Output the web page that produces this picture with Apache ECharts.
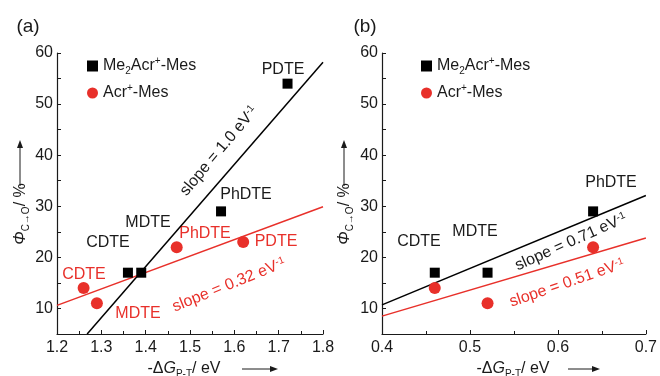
<!DOCTYPE html>
<html>
<head>
<meta charset="utf-8">
<script src="https://cdn.jsdelivr.net/npm/echarts@6/dist/echarts.min.js"></script>
<style>
  html, body { margin: 0; padding: 0; background: #fff; }
  #chart { width: 660px; height: 376px; }
</style>
</head>
<body>
<div id="chart"></div>
<script>
// panel (a): -dG (eV) vs quantum yield (%)
const xA_me2 = [1.36, 1.39, 1.57, 1.72]
const yA_me2 = [17, 17, 29, 54]
const xA_acr = [1.26, 1.29, 1.47, 1.62]
const yA_acr = [14, 11, 22, 23]
// panel (b)
const xB = [0.46, 0.52, 0.64]
const yB_me2 = [17, 17, 29]
const yB_acr = [14, 11, 22]
// fitted lines, end points
const fitA_me2 = [[1.268, 5], [1.8, 58.2]]
const fitA_acr = [[1.2, 10.6], [1.8, 29.9]]
const fitB_me2 = [[0.4, 10.7], [0.7, 32.1]]
const fitB_acr = [[0.4, 8.5], [0.7, 23.8]]
const names = ['Me2Acr+-Mes', 'Acr+-Mes']

const FONT = "'Liberation Sans', Arial, sans-serif"
const RED = '#e8302a'
const INK = '#1a1a1a'

const zip = (xs, ys) => xs.map((x, i) => [x, ys[i]])

const rich = {
  t: { fontSize: 16, fontFamily: FONT, lineHeight: 20 },
  i: { fontSize: 16, fontFamily: FONT, fontStyle: 'italic', lineHeight: 20 },
  sub: { fontSize: 10, fontFamily: FONT, verticalAlign: 'bottom', lineHeight: 14 },
  sup: { fontSize: 10, fontFamily: FONT, verticalAlign: 'top', lineHeight: 14 }
}

function legendText(n) {
  if (n === names[0]) return '{t|Me}{sub|2}{t|Acr}{sup|+}{t|-Mes}'
  return '{t|Acr}{sup|+}{t|-Mes}'
}

function xAxisCfg(idx, min, max) {
  return {
    type: 'value', gridIndex: idx, min: min, max: max, interval: 0.1,
    axisLine: { show: true, lineStyle: { color: INK, width: 1.2 } },
    axisTick: { inside: true, length: 4, lineStyle: { color: INK } },
    minorTick: { show: true, splitNumber: 2, length: 3, lineStyle: { color: INK } },
    splitLine: { show: false },
    axisLabel: { color: INK, fontSize: 16, fontFamily: FONT, margin: 6,
      formatter: v => v.toFixed(1) }
  }
}

function yAxisCfg(idx) {
  return {
    type: 'value', gridIndex: idx, min: 5, max: 60, interval: 5,
    axisLine: { show: true, lineStyle: { color: INK, width: 1.2 } },
    axisTick: { inside: true, length: 4, lineStyle: { color: INK } },
    splitLine: { show: false },
    axisLabel: { color: INK, fontSize: 16, fontFamily: FONT, margin: 4,
      formatter: v => (v % 10 === 0 ? String(v) : '') }
  }
}

function scatter(name, data, idx, red) {
  return {
    name: name, type: 'scatter', xAxisIndex: idx, yAxisIndex: idx, data: data,
    symbol: red ? 'circle' : 'rect', symbolSize: red ? 12 : 10,
    itemStyle: { color: red ? RED : '#000', opacity: 1 }, z: 3
  }
}

function fit(data, idx, red) {
  return {
    name: 'fit', type: 'line', xAxisIndex: idx, yAxisIndex: idx, data: data,
    symbol: 'none', silent: true, z: 2,
    lineStyle: { color: red ? RED : '#000', width: 1.5 }
  }
}

function label(x, y, text, color, rot) {
  return {
    type: 'text', x: x, y: y, rotation: rot ? rot * Math.PI / 180 : 0,
    style: {
      text: text, fill: color, fontSize: 16, fontFamily: FONT,
      align: 'center', verticalAlign: 'middle',
      rich: {
        t: { fontSize: 16, fontFamily: FONT, fill: color },
        sup: { fontSize: 10, fontFamily: FONT, fill: color, verticalAlign: 'top', lineHeight: 14 }
      }
    }
  }
}

function arrowUp(x, y0, y1) {
  return [
    { type: 'line', shape: { x1: x, y1: y0, x2: x, y2: y1 + 6 }, style: { stroke: INK, lineWidth: 1 } },
    { type: 'polygon', shape: { points: [[x - 3, y1 + 8], [x + 3, y1 + 8], [x, y1]] }, style: { fill: INK } }
  ]
}

function arrowRight(x0, x1, y) {
  return [
    { type: 'line', shape: { x1: x0, y1: y, x2: x1 - 6, y2: y }, style: { stroke: INK, lineWidth: 1 } },
    { type: 'polygon', shape: { points: [[x1 - 8, y - 3], [x1 - 8, y + 3], [x1, y]] }, style: { fill: INK } }
  ]
}

function yTitle(x, y) {
  return {
    type: 'text', x: x, y: y, rotation: Math.PI / 2,
    style: {
      text: '{i|Φ}{sub|C→O}{t|/ %}', fill: INK, align: 'center', verticalAlign: 'middle',
      fontSize: 16, fontFamily: FONT, rich: rich
    }
  }
}

function xTitle(x, y) {
  return {
    type: 'text', x: x, y: y,
    style: {
      text: '{t|-Δ}{i|G}{sub|P-T}{t|/ eV}', fill: INK, align: 'center', verticalAlign: 'middle',
      fontSize: 16, fontFamily: FONT, rich: rich
    }
  }
}

const chart = echarts.init(document.getElementById('chart'))

const option = {
  animation: false,
  backgroundColor: '#fff',
  grid: [
    { left: 57, top: 53, width: 266, height: 281 },
    { left: 382, top: 53, width: 267, height: 281 }
  ],
  xAxis: [xAxisCfg(0, 1.2, 1.8), xAxisCfg(1, 0.4, 0.7)],
  yAxis: [yAxisCfg(0), yAxisCfg(1)],
  legend: [
    { data: names.map((n, i) => ({ name: n, icon: i ? 'circle' : 'rect' })), orient: 'vertical',
      left: 82, top: 51, itemWidth: 11, itemHeight: 11, itemGap: 7,
      formatter: legendText, textStyle: { color: INK, rich: rich }, selectedMode: false },
    { data: names.map((n, i) => ({ name: n, icon: i ? 'circle' : 'rect' })), orient: 'vertical',
      left: 416, top: 51, itemWidth: 11, itemHeight: 11, itemGap: 7,
      formatter: legendText, textStyle: { color: INK, rich: rich }, selectedMode: false }
  ],
  series: [
    fit(fitA_me2, 0, false), fit(fitA_acr, 0, true),
    fit(fitB_me2, 1, false), fit(fitB_acr, 1, true),
    scatter(names[0], zip(xA_me2, yA_me2), 0, false),
    scatter(names[1], zip(xA_acr, yA_acr), 0, true),
    scatter(names[0], zip(xB, yB_me2), 1, false),
    scatter(names[1], zip(xB, yB_acr), 1, true)
  ],
  graphic: [
    { type: 'text', x: 28, y: 27, style: { text: '(a)', fill: INK, fontSize: 19, fontFamily: FONT, align: 'center', verticalAlign: 'middle' } },
    { type: 'text', x: 365, y: 27, style: { text: '(b)', fill: INK, fontSize: 19, fontFamily: FONT, align: 'center', verticalAlign: 'middle' } },
    // panel (a) point labels
    label(283, 70, 'PDTE', INK), label(246, 195, 'PhDTE', INK),
    label(148, 223, 'MDTE', INK), label(108, 243, 'CDTE', INK),
    label(84, 275, 'CDTE', RED), label(138, 314, 'MDTE', RED),
    label(205, 234, 'PhDTE', RED), label(276, 242, 'PDTE', RED),
    label(219, 151, '{t|slope = 1.0 eV}{sup|-1}', INK, 50),
    label(229, 285, '{t|slope = 0.32 eV}{sup|-1}', RED, 22),
    // panel (b) point labels
    label(611, 183, 'PhDTE', INK), label(419, 242, 'CDTE', INK), label(475, 232, 'MDTE', INK),
    label(571, 242, '{t|slope = 0.71 eV}{sup|-1}', INK, 24),
    label(567, 283, '{t|slope = 0.51 eV}{sup|-1}', RED, 19),
    // axis titles
    yTitle(21, 214), yTitle(345, 214),
    ...arrowUp(20, 186, 140), ...arrowUp(344, 186, 140),
    xTitle(184, 369), xTitle(513, 369),
    ...arrowRight(242, 278, 369), ...arrowRight(568, 600, 369)
  ]
}

chart.setOption(option)
</script>
</body>
</html>
